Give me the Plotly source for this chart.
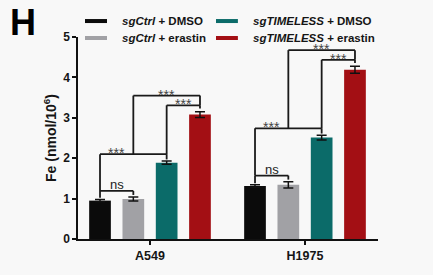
import plotly.graph_objects as go

# ---------------- data ----------------
groups = ["A549", "H1975"]
legend_labels = ["<i>sgCtrl</i> + DMSO", "<i>sgCtrl</i> + erastin",
                 "<i>sgTIMELESS</i> + DMSO", "<i>sgTIMELESS</i> + erastin"]
colors = ["#0b0b0b", "#a1a1a5", "#0b6b69", "#a30f14"]

fe_ctrl_dmso = [0.95, 1.31]
fe_ctrl_erastin = [0.99, 1.34]
fe_tim_dmso = [1.89, 2.51]
fe_tim_erastin = [3.08, 4.19]

sem_ctrl_dmso = [0.03, 0.03]
sem_ctrl_erastin = [0.05, 0.08]
sem_tim_dmso = [0.04, 0.06]
sem_tim_erastin = [0.07, 0.085]

y_ticks = [0, 1, 2, 3, 4, 5]
sig_ns = "ns"
sig_star = "***"

values = [fe_ctrl_dmso, fe_ctrl_erastin, fe_tim_dmso, fe_tim_erastin]
sems = [sem_ctrl_dmso, sem_ctrl_erastin, sem_tim_dmso, sem_tim_erastin]

# ---------------- layout params ----------------
slot = 0.215
bar_w = 0.14
FONT = "Liberation Sans, Arial, Helvetica, sans-serif"
BG = "#f8f8f8"
TXT = "#151515"

fig = go.Figure()

def xpos(g, j):
    return g + (j - 1.5) * slot

for j in range(4):
    fig.add_trace(go.Bar(
        x=[xpos(g, j) for g in range(len(groups))],
        y=values[j],
        width=bar_w,
        marker=dict(color=colors[j], line=dict(width=0)),
        error_y=dict(type="data", array=sems[j], color="#111111",
                     thickness=1.5, width=5),
        showlegend=False,
        hoverinfo="y",
    ))

shapes = []
annotations = []
LC = "#1a1a1a"
LW = 1.8

def seg(x0, y0, x1, y1):
    shapes.append(dict(type="line", xref="x", yref="y", x0=x0, y0=y0,
                       x1=x1, y1=y1, line=dict(color=LC, width=LW)))

def label(x, y, text, size, yshift, color="#333333", weight="normal"):
    annotations.append(dict(x=x, y=y, xref="x", yref="y", text=text,
                            showarrow=False, yanchor="bottom", xanchor="center",
                            yshift=yshift,
                            font=dict(size=size, color=color, family=FONT,
                                      weight=weight)))

for g in range(len(groups)):
    t = [values[j][g] + sems[j][g] for j in range(4)]
    xs = [xpos(g, j) for j in range(4)]
    ns_lvl = max(t[0], t[1]) + 0.15
    bt_lvl = t[2] + 0.17
    in_lvl = t[3] + 0.16
    out_lvl = in_lvl + 0.24
    mid02 = (xs[0] + xs[2]) / 2
    # ns bracket
    seg(xs[0], t[0] + 0.04, xs[0], ns_lvl)
    seg(xs[0], ns_lvl, xs[1], ns_lvl)
    seg(xs[1], ns_lvl, xs[1], t[1] + 0.05)
    label((xs[0] + xs[1]) / 2, ns_lvl, sig_ns, 13, -3, "#222222")
    # black/teal bracket
    seg(xs[0], ns_lvl, xs[0], bt_lvl)
    seg(xs[0], bt_lvl, xs[2], bt_lvl)
    seg(xs[2], bt_lvl, xs[2], t[2] + 0.04)
    label((xs[0] + mid02) / 2, bt_lvl, sig_star, 14, -9, "#444444")
    # inner teal/red bracket
    seg(xs[2], bt_lvl, xs[2], in_lvl)
    seg(xs[2], in_lvl, xs[3], in_lvl)
    seg(xs[3], in_lvl, xs[3], t[3] + 0.08)
    label((xs[2] + xs[3]) / 2, in_lvl, sig_star, 14, -9, "#444444")
    # outer bracket
    seg(mid02, bt_lvl, mid02, out_lvl)
    seg(mid02, out_lvl, xs[3], out_lvl)
    seg(xs[3], out_lvl, xs[3], in_lvl)
    label((mid02 + xs[3]) / 2, out_lvl, sig_star, 14, -9, "#444444")

# manual legend (paper coords): 2 columns x 2 rows
leg_order = [0, 2, 1, 3]  # row-major: ctrl dmso, tim dmso, ctrl erastin, tim erastin
col_sym_x = [(0.0233, 0.0967), (0.46, 0.533)]
col_txt_x = [0.14, 0.577]
row_y = [1.079, 0.995]
for k, j in enumerate(leg_order):
    r, c = divmod(k, 2)
    shapes.append(dict(type="line", xref="paper", yref="paper",
                       x0=col_sym_x[c][0], x1=col_sym_x[c][1],
                       y0=row_y[r], y1=row_y[r],
                       line=dict(color=colors[j], width=4)))
    annotations.append(dict(x=col_txt_x[c], y=row_y[r], xref="paper", yref="paper",
                            text=legend_labels[j], showarrow=False,
                            xanchor="left", yanchor="middle",
                            font=dict(size=11.5, color=TXT, family=FONT,
                                      weight="bold")))

# panel letter
annotations.append(dict(x=-0.1817, y=1.07, xref="paper", yref="paper",
                        text="H", showarrow=False, xanchor="center",
                        yanchor="middle",
                        font=dict(size=36, color="#000000", family=FONT,
                                  weight="bold")))

fig.update_layout(
    width=433, height=275,
    margin=dict(l=78, r=55, t=37, b=30),
    paper_bgcolor=BG, plot_bgcolor=BG,
    barmode="overlay",
    shapes=shapes, annotations=annotations,
    font=dict(family=FONT, color=TXT),
    xaxis=dict(range=[-0.4645, 1.471], tickvals=list(range(len(groups))),
               ticktext=groups, ticks="outside", ticklen=4, tickwidth=1.5,
               tickcolor="#111111", showline=True, linecolor="#111111",
               linewidth=1.5, showgrid=False, zeroline=False,
               tickfont=dict(size=12.5, color=TXT, weight="bold")),
    yaxis=dict(range=[0, 5], tickvals=y_ticks, ticks="outside", ticklen=4,
               tickwidth=1.5, tickcolor="#111111", showline=True,
               linecolor="#111111", linewidth=1.5, showgrid=False,
               zeroline=False,
               tickfont=dict(size=12, color=TXT, weight="bold"),
               title=dict(text="Fe (nmol/10<sup>6</sup>)", standoff=3,
                          font=dict(size=14, color=TXT, weight="bold"))),
)

fig.write_html("out.html")
